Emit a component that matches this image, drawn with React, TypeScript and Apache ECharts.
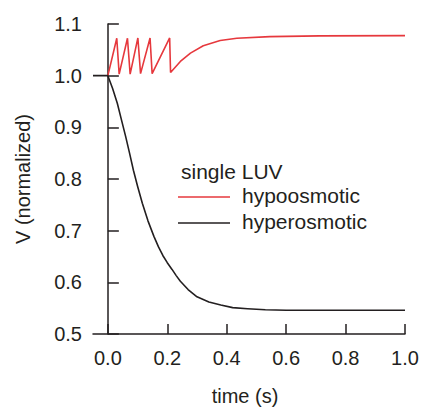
import React, { useEffect, useRef } from "react";
import * as echarts from "echarts";

const hypoT = [0, 0.03, 0.038, 0.066, 0.075, 0.101, 0.11, 0.142, 0.149, 0.208, 0.211, 0.244, 0.278, 0.321, 0.378, 0.434, 0.545, 0.712, 1.0];
const hypoV = [1.0, 1.0725, 1.003, 1.0725, 1.003, 1.073, 1.004, 1.073, 1.004, 1.073, 1.006, 1.0275, 1.0437, 1.058, 1.068, 1.0725, 1.0756, 1.077, 1.0775];

const hyperT = [-0.05, 0, 0.016, 0.032, 0.046, 0.06, 0.073, 0.086, 0.1, 0.116, 0.135, 0.155, 0.17, 0.185, 0.2, 0.216, 0.23, 0.244, 0.27, 0.3, 0.34, 0.38, 0.42, 0.47, 0.53, 0.6, 0.8, 1.0];
const hyperV = [1.0, 1.0, 0.975, 0.946, 0.914, 0.882, 0.85, 0.817, 0.786, 0.753, 0.719, 0.689, 0.669, 0.652, 0.638, 0.625, 0.613, 0.602, 0.586, 0.572, 0.562, 0.556, 0.551, 0.549, 0.547, 0.546, 0.546, 0.546];

const xTicks = [0, 0.2, 0.4, 0.6, 0.8, 1.0];
const legendTitle = "single LUV";
const seriesNames = ["hypoosmotic", "hyperosmotic"];
const seriesColors = ["#e6383d", "#231f20"];

const FONT = "'Liberation Sans', Arial, sans-serif";

export default function App() {
  const ref = useRef<HTMLDivElement>(null);
  useEffect(() => {
    if (!ref.current) return;
    const chart = echarts.init(ref.current, undefined, { renderer: "svg" });
    const axisLine = { show: true, lineStyle: { color: "#231f20", width: 1.5 } };
    chart.setOption({
      animation: false,
      backgroundColor: "#ffffff",
      grid: { left: 93, right: 17, top: 24, bottom: 75 },
      xAxis: {
        type: "value",
        min: -0.05,
        max: 1.0,
        axisLine,
        splitLine: { show: false },
        axisTick: { show: true, inside: true, length: 10, customValues: xTicks, lineStyle: { color: "#231f20", width: 1.5 } },
        axisLabel: {
          customValues: xTicks,
          margin: 14,
          fontSize: 20,
          fontFamily: FONT,
          color: "#231f20",
          formatter: (v: number) => v.toFixed(1),
        },
        name: "time (s)",
        nameLocation: "middle",
        nameGap: 52,
        nameTextStyle: { fontSize: 20, fontFamily: FONT, color: "#231f20", padding: [0, 8, 0, 0] },
      },
      yAxis: {
        type: "value",
        min: 0.5,
        max: 1.1,
        interval: 0.1,
        axisLine,
        splitLine: { show: false },
        axisTick: { show: true, inside: true, length: 11, lineStyle: { color: "#231f20", width: 1.5 } },
        axisLabel: {
          margin: 11,
          fontSize: 20,
          fontFamily: FONT,
          color: "#231f20",
          formatter: (v: number) => v.toFixed(1),
        },
        name: "V (normalized)",
        nameLocation: "middle",
        nameGap: 60,
        nameTextStyle: { fontSize: 20, fontFamily: FONT, color: "#231f20" },
      },
      series: [
        {
          name: seriesNames[0],
          type: "line",
          data: hypoT.map((t, i) => [t, hypoV[i]]),
          showSymbol: false,
          lineStyle: { color: seriesColors[0], width: 1.6 },
          z: 2,
        },
        {
          name: seriesNames[1],
          type: "line",
          data: hyperT.map((t, i) => [t, hyperV[i]]),
          showSymbol: false,
          lineStyle: { color: seriesColors[1], width: 1.6, join: "round" },
          z: 3,
        },
      ],
      graphic: [
        { type: "text", left: 181, top: 161, style: { text: legendTitle, fontSize: 21, fontFamily: FONT, fill: "#231f20" } },
        { type: "line", shape: { x1: 178, y1: 197, x2: 230, y2: 197 }, style: { stroke: seriesColors[0], lineWidth: 1.6 } },
        { type: "text", left: 242, top: 185, style: { text: seriesNames[0], fontSize: 21, fontFamily: FONT, fill: "#231f20" } },
        { type: "line", shape: { x1: 178, y1: 223, x2: 230, y2: 223 }, style: { stroke: seriesColors[1], lineWidth: 1.6 } },
        { type: "text", left: 242, top: 211, style: { text: seriesNames[1], fontSize: 21, fontFamily: FONT, fill: "#231f20" } },
      ],
    });
    return () => chart.dispose();
  }, []);
  return <div ref={ref} style={{ width: 422, height: 411, position: "absolute", left: 0, top: 0 }} />;
}
